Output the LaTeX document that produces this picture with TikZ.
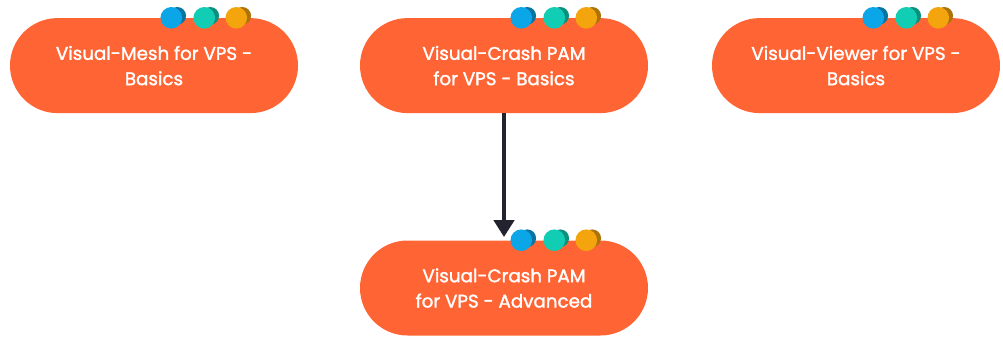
\documentclass[tikz,border=0pt]{standalone}
\usepackage{fontspec}
\setmainfont[FakeBold=1.6]{Poppins}
\usetikzlibrary{arrows.meta}
\definecolor{pillorange}{HTML}{FF6534}
\definecolor{dotblue}{HTML}{0AA6E8}
\definecolor{dotteal}{HTML}{10CDB4}
\definecolor{dotyellow}{HTML}{F4A40C}
\definecolor{arrowdark}{HTML}{23232F}
\tikzset{course/.style={fill=pillorange, text=white, align=center,
    minimum width=7.2cm, minimum height=2.375cm, rounded corners=1.1875cm,
    font=\fontsize{13}{18}\selectfont}}
% three little waves on the top edge of a box
\newcommand\coursedots[1]{%
  \begin{scope}[shift={(#1.north east)}]
  \foreach \dx/\c in {-3.175/dotblue,-2.35/dotteal,-1.55/dotyellow}
  {
    \fill[\c!70!black] (\dx+.15,.05) circle(.22);
    \fill[\c] (\dx,0) circle(.27);
  }
  \end{scope}}

\begin{document}
\begin{tikzpicture}
\useasboundingbox (0,0) rectangle (25.075,8.45);

    \node[course] (mesh) at (3.85,6.81) {Visual-Mesh for VPS -\\Basics};
    \node[course] (crash) at (12.6,6.81) {Visual-Crash PAM\\for VPS - Basics};
    \node[course] (viewer) at (21.4,6.81) {Visual-Viewer for VPS -\\Basics};
    \node[course] (adv) at (12.6,1.25) {Visual-Crash PAM\\for VPS - Advanced};

\coursedots{mesh}
\coursedots{crash}
\coursedots{viewer}
\coursedots{adv}

\draw[arrowdark, line width=.1cm, -{Triangle[width=.5cm,length=.42cm]}]
    (crash.south) -- ([yshift=.08cm]adv.north);
\end{tikzpicture}
\end{document}
